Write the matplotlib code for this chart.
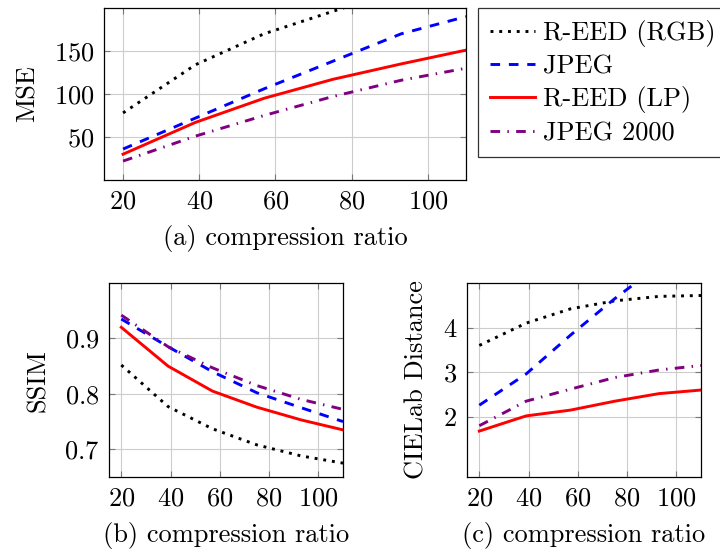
import matplotlib
matplotlib.use("Agg")
import matplotlib.pyplot as plt

plt.rcParams['font.family'] = 'serif'
plt.rcParams['font.serif'] = ['cmr10']
plt.rcParams['mathtext.fontset'] = 'cm'
plt.rcParams['axes.formatter.use_mathtext'] = True

# compression ratios
ratio = [20, 39, 57, 75, 93, 110]

# (a) MSE
mse_rgb = [78, 134, 170, 196, 222, 238]
mse_jpeg = [36, 72, 106, 138, 170, 190]
mse_lp = [30, 67, 95, 117, 135, 151]
mse_jp2 = [22, 51, 75, 97, 116, 130]

# (b) SSIM
ssim_rgb = [0.852, 0.777, 0.737, 0.708, 0.688, 0.675]
ssim_jpeg = [0.935, 0.885, 0.840, 0.802, 0.775, 0.750]
ssim_lp = [0.920, 0.850, 0.805, 0.776, 0.753, 0.735]
ssim_jp2 = [0.942, 0.885, 0.847, 0.815, 0.790, 0.772]

# (c) CIELab distance
lab_rgb = [3.60, 4.10, 4.42, 4.60, 4.70, 4.72]
lab_jpeg = [2.26, 2.96, 3.83, 4.65, 5.40, 6.10]
lab_lp = [1.68, 2.02, 2.15, 2.35, 2.52, 2.60]
lab_jp2 = [1.80, 2.35, 2.62, 2.88, 3.05, 3.15]

names = ['R-EED (RGB)', 'JPEG', 'R-EED (LP)', 'JPEG 2000']
colors = ['black', (0, 0, 1), (1, 0, 0), (0.5, 0, 0.5)]
styles = [(0, (1, 2)), (0, (3.3, 3)), '-', (0, (3.3, 2.5, 0.5, 2.5))]

FS = 19

def setupAxes(ax):
    ax.grid(True, color='#cccccc', linewidth=0.8)
    ax.set_axisbelow(True)
    ax.tick_params(direction='in', top=True, right=True, length=4,
                   color='#777777', labelsize=FS, pad=7)
    for s in ax.spines.values():
        s.set_linewidth(0.9)
    ax.set_xlim(15, 110)
    ax.set_xticks([20, 40, 60, 80, 100])

def drawSeries(ax, series):
    lines = []
    for data, c, ls in zip(series, colors, styles):
        ln, = ax.plot(ratio, data, color=c, linestyle=ls, linewidth=2.1)
        lines.append(ln)
    return lines

fig = plt.figure(figsize=(7.2, 5.51), dpi=100)

axA = fig.add_axes([104/720, 1-180/551, 362/720, 172/551])
axB = fig.add_axes([109/720, 1-477/551, 234/720, 194/551])
axC = fig.add_axes([467/720, 1-477/551, 234/720, 194/551])

lines = drawSeries(axA, [mse_rgb, mse_jpeg, mse_lp, mse_jp2])
setupAxes(axA)
axA.set_ylim(0, 200)
axA.set_yticks([50, 100, 150])
axA.set_ylabel('MSE', fontsize=FS, labelpad=10)
axA.set_xlabel('(a) compression ratio', fontsize=FS, labelpad=8)

drawSeries(axB, [ssim_rgb, ssim_jpeg, ssim_lp, ssim_jp2])
setupAxes(axB)
axB.set_ylim(0.65, 1.0)
axB.set_yticks([0.7, 0.8, 0.9])
axB.set_ylabel('SSIM', fontsize=FS, labelpad=10)
axB.set_xlabel('(b) compression ratio', fontsize=FS, labelpad=8)

drawSeries(axC, [lab_rgb, lab_jpeg, lab_lp, lab_jp2])
setupAxes(axC)
axC.set_ylim(0.65, 5.0)
axC.set_yticks([2, 3, 4])
axC.set_ylabel('CIELab Distance', fontsize=FS, labelpad=10)
axC.set_xlabel('(c) compression ratio', fontsize=FS, labelpad=8)

leg = fig.legend(lines, names, loc='upper left',
                 bbox_to_anchor=(478/720, 1-8/551), fontsize=FS,
                 frameon=True, fancybox=False, borderaxespad=0,
                 handlelength=1.7, handletextpad=0.3, labelspacing=0.3,
                 borderpad=0.45)
leg.get_frame().set_edgecolor('black')
leg.get_frame().set_linewidth(0.9)

fig.savefig('out.png', dpi=100)
